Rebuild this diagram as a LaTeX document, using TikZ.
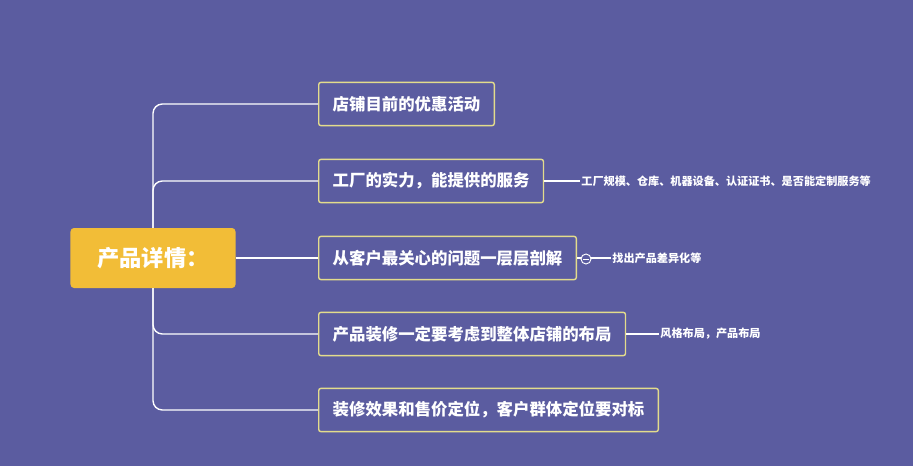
\documentclass[tikz,border=0pt]{standalone}
\usepackage{fontspec}
\newfontfamily\cjk{Noto Sans CJK SC}
\usetikzlibrary{positioning}
\definecolor{bgblue}{HTML}{5B5CA0}
\definecolor{rootgold}{HTML}{F2BD37}
\definecolor{edgeyellow}{HTML}{E3DC8C}
\tikzset{
  topic/.style={draw=edgeyellow,line width=1.2pt,rounded corners=2pt,fill=bgblue,
    text=white,font=\cjk\bfseries\fontsize{14pt}{16pt}\selectfont,
    minimum height=1.3cm,inner xsep=0.42cm,anchor=west},
  note/.style={text=white,font=\cjk\bfseries\fontsize{9.5pt}{11pt}\selectfont,
    anchor=west,inner sep=1pt},
  link/.style={draw=white,line width=1.2pt}
}
\begin{document}
\begin{tikzpicture}[x=0.03cm,y=-0.03cm]
  \fill[bgblue] (0,0) rectangle (913,466);

  \node[fill=rootgold,rounded corners=3pt,text=white,minimum width=4.95cm,minimum height=1.8cm,
    font=\cjk\bfseries\fontsize{19pt}{22pt}\selectfont] (root) at (153,258) {产品详情：};

  \node[topic] (t1) at (318,104) {店铺目前的优惠活动};
  \node[topic] (t2) at (318,181) {工厂的实力，能提供的服务};
  \node[topic] (t3) at (318,258) {从客户最关心的问题一层层剖解};
  \node[topic] (t4) at (318,334) {产品装修一定要考虑到整体店铺的布局};
  \node[topic] (t5) at (318,410) {装修效果和售价定位，客户群体定位要对标};

  \node[note] (n2) at (580,181) {工厂规模、仓库、机器设备、认证证书、是否能定制服务等};
  \node[note] (n3) at (611,258) {找出产品差异化等};
  \node[note] (n4) at (659,334) {风格布局，产品布局};

  % trunk
  \draw[link,rounded corners=8pt] (root.north) |- (t1.west);
  \draw[link,rounded corners=8pt] (root.north) |- (t2.west);
  \draw[link] (root.east) -- (t3.west);
  \draw[link,rounded corners=8pt] (root.south) |- (t4.west);
  \draw[link,rounded corners=8pt] (root.south) |- (t5.west);

  % notes
  \draw[link] (t2.east) -- (n2.west);
  \draw[link] (t3.east) -- (n3.west);
  \draw[link] (t4.east) -- (n4.west);
  \node[circle,draw=white,line width=0.8pt,fill=bgblue,minimum size=0.3cm,inner sep=0pt] (fold) at (586,259) {};
  \draw[white,line width=0.6pt] ([xshift=-0.08cm]fold.center) -- ([xshift=0.08cm]fold.center);
\end{tikzpicture}
\end{document}
